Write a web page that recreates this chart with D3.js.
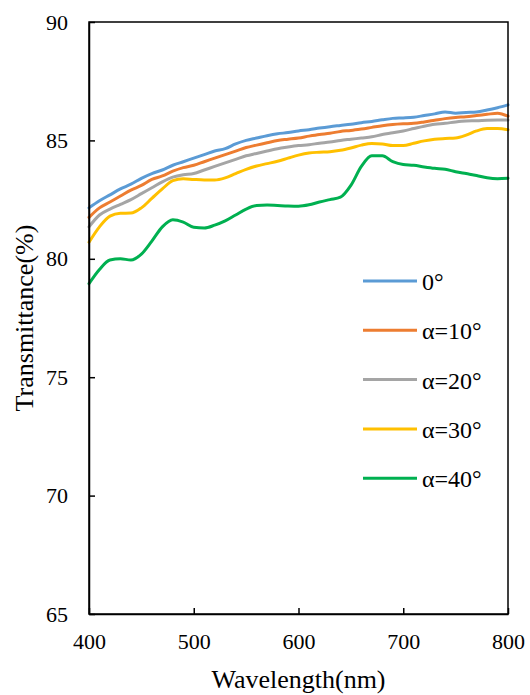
<!DOCTYPE html>
<html>
<head>
<meta charset="utf-8">
<script src="https://cdn.jsdelivr.net/npm/d3@7"></script>
</head>
<body style="margin:0">
<svg id="chart" width="530" height="695" font-family="Times New Roman"></svg>
<script>
// Wavelength grid (nm)
const wavelengths = [400,410,420,430,440,450,460,470,480,490,500,510,520,530,540,550,560,570,580,590,600,
  610,620,630,640,650,660,670,680,690,700,710,720,730,740,750,760,770,780,790,800];

// Transmittance (%) for each incidence angle
const t0 = [82.15,82.45,82.70,82.95,83.15,83.40,83.60,83.75,83.95,84.10,84.25,84.40,84.55,84.65,84.85,85.00,85.10,85.20,85.28,85.33,85.40,
  85.45,85.52,85.58,85.63,85.68,85.75,85.80,85.87,85.93,85.95,85.98,86.05,86.12,86.20,86.15,86.18,86.20,86.28,86.38,86.50];
const t10 = [81.75,82.15,82.40,82.65,82.90,83.10,83.35,83.50,83.70,83.85,83.95,84.10,84.25,84.40,84.55,84.70,84.80,84.90,85.00,85.05,85.10,
  85.18,85.25,85.30,85.38,85.42,85.48,85.55,85.62,85.67,85.70,85.72,85.78,85.85,85.92,85.97,86.00,86.05,86.10,86.15,86.02];
const t20 = [81.35,81.85,82.10,82.30,82.50,82.75,83.00,83.25,83.45,83.55,83.60,83.75,83.90,84.05,84.20,84.35,84.45,84.55,84.65,84.72,84.78,
  84.82,84.88,84.93,85.00,85.05,85.10,85.15,85.25,85.32,85.40,85.50,85.60,85.68,85.72,85.78,85.82,85.83,85.85,85.86,85.86];
const t30 = [80.70,81.35,81.80,81.92,81.93,82.15,82.55,82.95,83.30,83.38,83.35,83.33,83.33,83.42,83.60,83.78,83.92,84.02,84.12,84.25,84.38,
  84.47,84.50,84.52,84.58,84.68,84.80,84.87,84.85,84.78,84.78,84.88,84.98,85.05,85.08,85.10,85.22,85.40,85.50,85.50,85.45];
const t40 = [78.95,79.55,79.95,80.00,79.95,80.20,80.75,81.35,81.65,81.55,81.33,81.30,81.42,81.60,81.85,82.10,82.25,82.27,82.25,82.23,82.22,
  82.28,82.40,82.50,82.60,83.10,83.90,84.35,84.35,84.10,83.98,83.95,83.88,83.82,83.78,83.68,83.60,83.52,83.42,83.38,83.40];

const seriesNames = ["0°", "α=10°", "α=20°", "α=30°", "α=40°"];
const seriesValues = [t0, t10, t20, t30, t40];
const seriesColors = ["#5B9BD5", "#ED7D31", "#A5A5A5", "#FFC000", "#00B050"];

const xTicks = [400, 500, 600, 700, 800];
const yTicks = [65, 70, 75, 80, 85, 90];

const svg = d3.select("#chart");
const plotLeft = 89, plotRight = 508, plotTop = 22, plotBottom = 614;

const x = d3.scaleLinear().domain([400, 800]).range([plotLeft, plotRight]);
const y = d3.scaleLinear().domain([65, 90]).range([plotBottom, plotTop]);

// Data curves
const line = d3.line()
  .x((d, i) => x(wavelengths[i]))
  .y(d => y(d))
  .curve(d3.curveMonotoneX);

svg.append("g")
  .selectAll("path")
  .data(seriesValues)
  .join("path")
  .attr("d", d => line(d))
  .attr("fill", "none")
  .attr("stroke", (d, i) => seriesColors[i])
  .attr("stroke-width", 3)
  .attr("stroke-linejoin", "round")
  .attr("stroke-linecap", "round");

// Frame
svg.append("rect")
  .attr("x", plotLeft).attr("y", plotTop)
  .attr("width", plotRight - plotLeft).attr("height", plotBottom - plotTop)
  .attr("fill", "none").attr("stroke", "#000").attr("stroke-width", 1.5);

// Axes with inward ticks
const xAxis = svg.append("g")
  .attr("transform", `translate(0,${plotBottom})`)
  .call(d3.axisBottom(x).tickValues(xTicks).tickSizeInner(-6).tickSizeOuter(0).tickPadding(19));
const yAxis = svg.append("g")
  .attr("transform", `translate(${plotLeft},0)`)
  .call(d3.axisLeft(y).tickValues(yTicks).tickSizeInner(-6).tickSizeOuter(0).tickPadding(21));

[xAxis, yAxis].forEach(g => {
  g.attr("font-family", null).attr("font-size", 22);
  g.select(".domain").attr("stroke", "#000").attr("stroke-width", 1.5);
  g.selectAll(".tick line").attr("stroke", "#000").attr("stroke-width", 1.5);
  g.selectAll(".tick text").attr("fill", "#000").attr("font-family", d => "Times New Roman");
});

// Axis titles
svg.append("text")
  .attr("x", (plotLeft + plotRight) / 2).attr("y", 688)
  .attr("text-anchor", "middle")
  .attr("font-family", () => "Times New Roman")
  .attr("font-size", 26)
  .text("Wavelength(nm)");

svg.append("text")
  .attr("transform", `translate(33,${(plotTop + plotBottom) / 2}) rotate(-90)`)
  .attr("text-anchor", "middle")
  .attr("font-family", () => "Times New Roman")
  .attr("font-size", 26)
  .text("Transmittance(%)");

// Legend
const legend = svg.append("g")
  .selectAll("g")
  .data(seriesNames)
  .join("g")
  .attr("transform", (d, i) => `translate(363,${281 + i * 49.3})`);

legend.append("line")
  .attr("x1", 0).attr("x2", 54)
  .attr("stroke", (d, i) => seriesColors[i])
  .attr("stroke-width", 3);

legend.append("text")
  .attr("x", 59).attr("y", 9)
  .attr("font-family", d => "Times New Roman")
  .attr("font-size", 24)
  .text(d => d);
</script>
</body>
</html>
